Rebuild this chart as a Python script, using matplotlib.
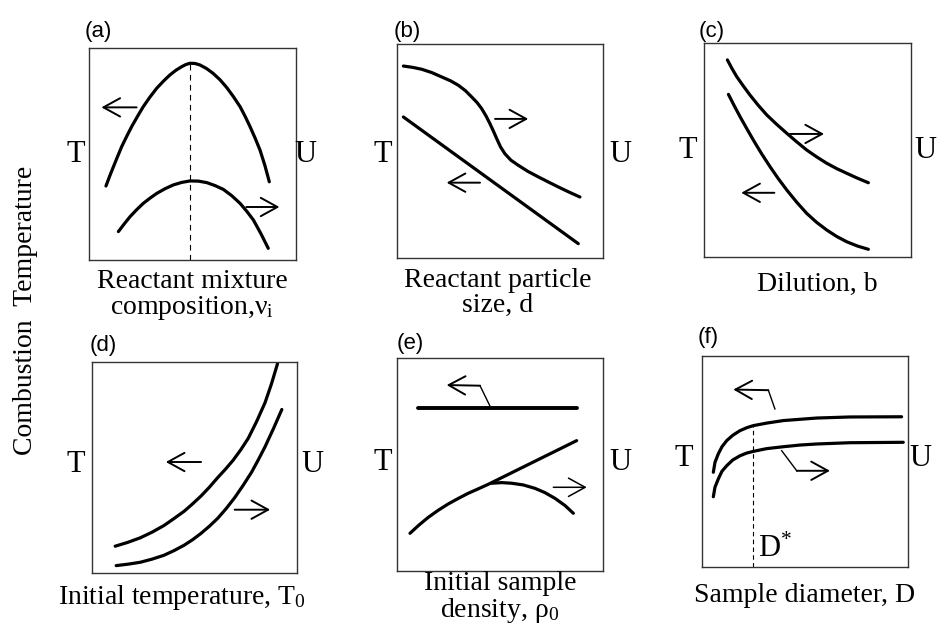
import matplotlib
matplotlib.use("Agg")
import matplotlib.pyplot as plt

# ---------------- data (axes units 0..100) ----------------
# (a) reactant mixture composition
a_T_x = [8.2, 10, 11.8, 13.8, 15.8, 18.2, 20.6, 23.4, 26.2, 29.4, 32.7, 36, 39.1, 42, 44.8,
         46.8, 48.8, 51.2, 53.6, 56.8, 60, 63.3, 66.5, 69.8, 73, 75.4, 77.8, 80.2, 82.6, 85, 87.1]
a_T_y = [34.9, 39.6, 44, 48.8, 53.5, 58.3, 62.9, 67.7, 72.3, 76.8, 81, 84.4, 87.3, 89.5, 91.2,
         92.2, 92.8, 92.7, 92, 90.3, 88, 85, 81.4, 77, 72.3, 67.8, 62.9, 57.6, 51.9, 44.5, 36.9]
a_U_x = [14.2, 17, 19.8, 23, 26.2, 29.5, 32.7, 36.7, 40.7, 44.8, 48.8, 52.9, 56.9, 60.9, 64.9,
         69, 73, 76.2, 79.4, 83, 86.6]
a_U_y = [13.4, 17, 20.4, 23.7, 26.7, 29.2, 31.4, 33.6, 35.4, 36.6, 37.3, 37.2, 36.5, 35.1, 33.3,
         30.3, 26.7, 23, 18.9, 12.5, 5.5]
a_peak_x = 48.8

# (b) reactant particle size
b_U_x = [3.1, 7.5, 12, 17, 21.7, 26, 29.8, 33.2, 36.3, 38.9, 41.1, 43.2, 45.1, 46.8, 48.4,
         50.2, 52.4, 55.3, 58.9, 63.5, 68.6, 73.5, 78.3, 83.5, 88.8]
b_U_y = [89.7, 89.1, 88.2, 86.6, 84.6, 82.8, 80.7, 78.2, 75.2, 72.6, 69.8, 66.4, 62.8, 59.3, 55.8,
         52, 48.7, 45.7, 43.3, 40.5, 37.9, 35.5, 33.2, 30.8, 28.5]
b_T_x = [3.1, 88]
b_T_y = [65.9, 6.7]

# (c) dilution
c_U_x = [11.3, 13.5, 15.8, 19, 22.2, 26.2, 30.3, 35.1, 40, 44.8, 49.6, 54.4, 59.3, 64.1, 69, 74.2, 79.4]
c_U_y = [92.1, 88.1, 84.3, 79.9, 75.7, 70.9, 66.4, 62, 57.8, 53.8, 50, 46.8, 43.8, 41.3, 39.1, 36.8, 34.7]
c_T_x = [11.8, 14.6, 17.4, 20.6, 23.8, 27.8, 31.9, 35.9, 40, 44.8, 49.6, 54.4, 59.3, 64.1, 69, 74.2, 79.4]
c_T_y = [76, 70.7, 65.6, 60.1, 54.7, 48.3, 42.2, 36.6, 31.3, 25.6, 20.4, 16.2, 12.6, 9.6, 7.1, 5.1, 3.6]

# (d) initial temperature
d_T_x = [11.3, 17.4, 23.6, 29.4, 35.1, 40, 45, 49.1, 53.2, 57.3, 61.4, 65.1, 68.8, 72.5, 76.2,
         80.3, 84.4, 87.5, 90.5]
d_T_y = [12.7, 14.5, 16.7, 19.4, 22.5, 25.8, 29.3, 32.8, 36.5, 40.7, 45.3, 49.2, 53.4, 58.3, 63.8,
         71.8, 80.7, 89.5, 99.2]
d_U_x = [11.8, 17.7, 23.6, 29.4, 35.1, 40, 45, 49.1, 53.2, 57.3, 61.4, 65.5, 69.6, 73.7, 77.8,
         81.1, 84.4, 88.5, 92.6]
d_U_y = [3.5, 4.2, 5.1, 6.6, 8.4, 10.6, 13.2, 15.8, 18.8, 22.2, 26, 30.6, 35.7, 41.5, 47.7,
         53.6, 59.8, 68.4, 77.5]

# (e) initial sample density
e_T_x = [10.3, 87.2]
e_T_y = [76.4, 76.4]
e_U_x = [6.3, 10.7, 15.2, 20, 24.9, 29.8, 34.6, 39.5, 44.3, 87.2]
e_U_y = [17.7, 21.6, 25.2, 28.5, 31.5, 34.1, 36.5, 38.6, 40.7, 61.2]
e_br_x = [46, 50.8, 55.7, 61.3, 67, 71.8, 76.7, 81.6, 85.6]
e_br_y = [41.2, 41.5, 41.2, 40.4, 38.8, 36.8, 34.1, 30.7, 27.1]

# (f) sample diameter
f_T_x = [5.5, 6.3, 7.9, 9.7, 12, 14.9, 18.4, 21.7, 24.9, 31.4, 39.5, 47.6, 55.7, 71.8, 96.9]
f_T_y = [44.9, 49.6, 53.6, 57, 59.9, 62.4, 64.6, 66, 67, 68.2, 69.4, 70, 70.6, 71.1, 71.2]
f_U_x = [5.5, 6.3, 7.9, 9.7, 12, 14.9, 18.4, 21.7, 24.9, 31.4, 39.5, 47.6, 55.7, 71.8, 97.7]
f_U_y = [33.3, 37.8, 41.7, 45.4, 48, 50.7, 52.7, 54, 54.8, 56.1, 57, 57.8, 58.3, 58.9, 59.1]
f_crit_x = 24.9
f_crit_y = 67

# ---------------- labels ----------------
panel_tags = ["(a)", "(b)", "(c)", "(d)", "(e)", "(f)"]
x_titles = [
    "Reactant mixture\ncomposition,$\\mathregular{\\nu_i}$",
    "Reactant particle\nsize, d",
    "Dilution, b",
    "Initial temperature, T$_\\mathregular{0}$",
    "Initial sample\ndensity, $\\mathregular{\\rho}_\\mathregular{0}$",
    "Sample diameter, D",
]
left_label = "T"
right_label = "U"
side_title = "Combustion  Temperature"
crit_label = "D$^{\\mathregular{*}}$"

W, H = 938, 628
SERIF = "Liberation Serif"
SANS = "Liberation Sans"
plt.rcParams["mathtext.fontset"] = "custom"
plt.rcParams["mathtext.rm"] = SERIF
plt.rcParams["mathtext.it"] = SERIF + ":italic"

fig = plt.figure(figsize=(W / 100, H / 100), dpi=100)
fig.patch.set_facecolor("white")


def px(x, y):
    return x / W, 1 - y / H


def make_axes(x0, y0, x1, y1):
    ax = fig.add_axes([x0 / W, 1 - y1 / H, (x1 - x0) / W, (y1 - y0) / H])
    ax.set_xlim(0, 100)
    ax.set_ylim(0, 100)
    ax.set_xticks([])
    ax.set_yticks([])
    for s in ax.spines.values():
        s.set_linewidth(1.0)
        s.set_color("#333333")
    return ax


boxes = [
    (89, 48, 296, 260),
    (397, 44, 603, 258),
    (704, 43, 911, 257),
    (92, 362, 297, 573),
    (397, 358, 603, 571),
    (702, 356, 908, 567),
]
axes = [make_axes(*b) for b in boxes]

LW = 2.3
ALW = 1.4
CURVE = dict(color="black", lw=LW, solid_capstyle="round", solid_joinstyle="round")


def arrow(ax, tail, head, lw=ALW):
    ax.annotate("", xy=head, xytext=tail,
                arrowprops=dict(arrowstyle="->,head_length=0.6,head_width=0.33",
                                lw=lw, color="black", mutation_scale=20,
                                shrinkA=0, shrinkB=0))


def kinked_arrow(ax, pts):
    xs = [p[0] for p in pts[:-1]]
    ys = [p[1] for p in pts[:-1]]
    ax.plot(xs, ys, color="black", lw=1.0)
    arrow(ax, pts[-2], pts[-1])


# (a)
ax = axes[0]
ax.plot(a_T_x, a_T_y, **CURVE)
ax.plot(a_U_x, a_U_y, **CURVE)
ax.plot([a_peak_x, a_peak_x], [0, max(a_T_y)], color="black", lw=0.8, ls=(0, (5, 4)))
arrow(ax, (23, 72), (6, 72))
arrow(ax, (76, 25), (92, 25))

# (b)
ax = axes[1]
ax.plot(b_U_x, b_U_y, **CURVE)
ax.plot(b_T_x, b_T_y, **CURVE)
arrow(ax, (47.6, 65), (63.7, 65))
arrow(ax, (40.3, 35.2), (24.1, 35.2))

# (c)
ax = axes[2]
ax.plot(c_U_x, c_U_y, **CURVE)
ax.plot(c_T_x, c_T_y, **CURVE)
arrow(ax, (41.5, 57.5), (58, 57.5))
arrow(ax, (34, 30), (18, 30))

# (d)
ax = axes[3]
ax.plot(d_T_x, d_T_y, **CURVE)
ax.plot(d_U_x, d_U_y, **CURVE)
arrow(ax, (53.2, 52.6), (36, 52.6))
arrow(ax, (69.6, 30), (86.9, 30))

# (e)
ax = axes[4]
ax.plot(e_T_x, e_T_y, **{**CURVE, "lw": LW + 0.5})
ax.plot(e_U_x, e_U_y, **CURVE)
ax.plot(e_br_x, e_br_y, **CURVE)
kinked_arrow(ax, [(45.1, 77.5), (40.3, 87), (24.1, 87.3)])
arrow(ax, (75.9, 39.3), (92.1, 39.3), lw=1.1)

# (f)
ax = axes[5]
ax.plot(f_T_x, f_T_y, **CURVE)
ax.plot(f_U_x, f_U_y, **CURVE)
ax.plot([f_crit_x, f_crit_x], [0, f_crit_y], color="black", lw=0.8, ls=(0, (4, 3)))
ax.text(27.3, 4.7, crit_label, fontsize=22, family=SERIF, ha="left", va="baseline")
kinked_arrow(ax, [(35.4, 74.9), (32.2, 83.8), (15.2, 84.1)])
kinked_arrow(ax, [(38.7, 55.1), (46, 45.6), (62.1, 45.6)])

# ---------------- text ----------------
tag_pos = [(98, 32), (407, 32), (712, 32), (103, 345), (410, 343), (708, 337)]
T_pos = [(76, 155), (383, 155), (688, 150), (76, 465), (383, 462), (684, 458)]
U_pos = [(305, 155), (620, 155), (925, 150), (312, 465), (620, 462), (920, 458)]
title_pos = [(192, 295), (498, 293), (817, 284), (182, 597), (500, 598), (805, 596)]

for i in range(6):
    fig.text(*px(*tag_pos[i]), panel_tags[i], fontsize=16, family=SANS,
             ha="center", va="center")
    fig.text(*px(*T_pos[i]), left_label, fontsize=22, family=SERIF,
             ha="center", va="center")
    fig.text(*px(*U_pos[i]), right_label, fontsize=22, family=SERIF,
             ha="center", va="center")
    fig.text(*px(*title_pos[i]), x_titles[i], fontsize=20, family=SERIF,
             ha="center", va="center", linespacing=1.0)

fig.text(*px(26, 310), side_title, fontsize=20, family=SERIF, rotation=90,
         ha="center", va="center")

fig.savefig("out.png", dpi=100, facecolor="white")
